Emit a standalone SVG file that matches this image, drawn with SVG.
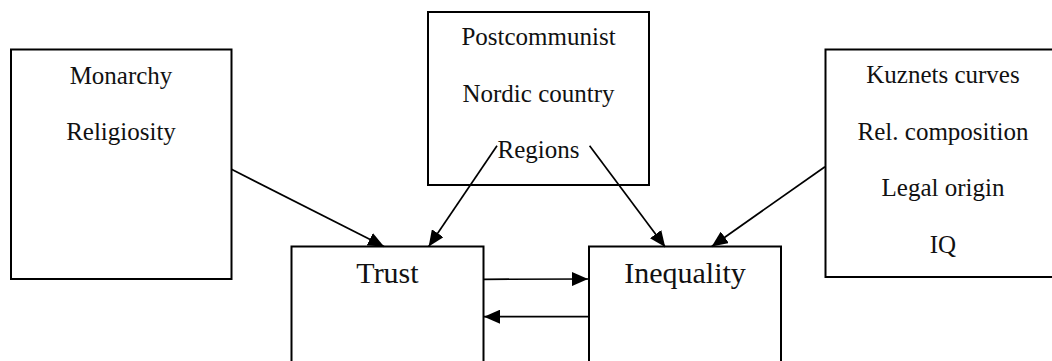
<svg xmlns="http://www.w3.org/2000/svg" width="1052" height="361" viewBox="0 0 1052 361">
<style>
.box{fill:#fff;stroke:#000;stroke-width:2}
.t{font-family:"Liberation Serif","Times New Roman",serif;font-size:25px;fill:#111;text-anchor:middle}
.big{font-size:30px}
.c line{stroke:#000;stroke-width:1.7;marker-end:url(#ah)}
</style>
<defs>
<marker id="ah" markerUnits="userSpaceOnUse" markerWidth="17" markerHeight="14" refX="16" refY="7" orient="auto" viewBox="0 0 17 14">
<path d="M0,0 L16,7 L0,14 Z" fill="#000"/>
</marker>
</defs>
<g id="left">
<rect class="box" x="11" y="49.5" width="220.5" height="229.5"/>
<text class="t" x="121" y="84">Monarchy</text>
<text class="t" x="121" y="140">Religiosity</text>
</g>
<g id="middle">
<rect class="box" x="428" y="12" width="221" height="173"/>
<text class="t" x="538.5" y="45">Postcommunist</text>
<text class="t" x="538.5" y="101.5">Nordic country</text>
<text class="t" x="538.5" y="158">Regions</text>
</g>
<g id="right">
<rect class="box" x="825.5" y="49.5" width="240" height="227.5"/>
<text class="t" x="943" y="82.5">Kuznets curves</text>
<text class="t" x="943" y="139.5">Rel. composition</text>
<text class="t" x="943" y="196">Legal origin</text>
<text class="t" x="943" y="252.5">IQ</text>
</g>
<g id="trust">
<rect class="box" x="291.5" y="246.5" width="192" height="130"/>
<text class="t big" x="387.5" y="283">Trust</text>
</g>
<g id="inequality">
<rect class="box" x="589" y="246.5" width="192" height="130"/>
<text class="t big" x="685" y="283">Inequality</text>
</g>
<g id="connectors" class="c">
<line x1="231.5" y1="169.3" x2="384" y2="246.5"/>
<line x1="497" y1="145.7" x2="428.7" y2="246.5"/>
<line x1="589.6" y1="145.7" x2="665.2" y2="247"/>
<line x1="825" y1="166.7" x2="711.7" y2="246.5"/>
<line x1="483.5" y1="279.3" x2="588" y2="279"/>
<line x1="589" y1="316.7" x2="484" y2="316.7"/>
</g>
</svg>
